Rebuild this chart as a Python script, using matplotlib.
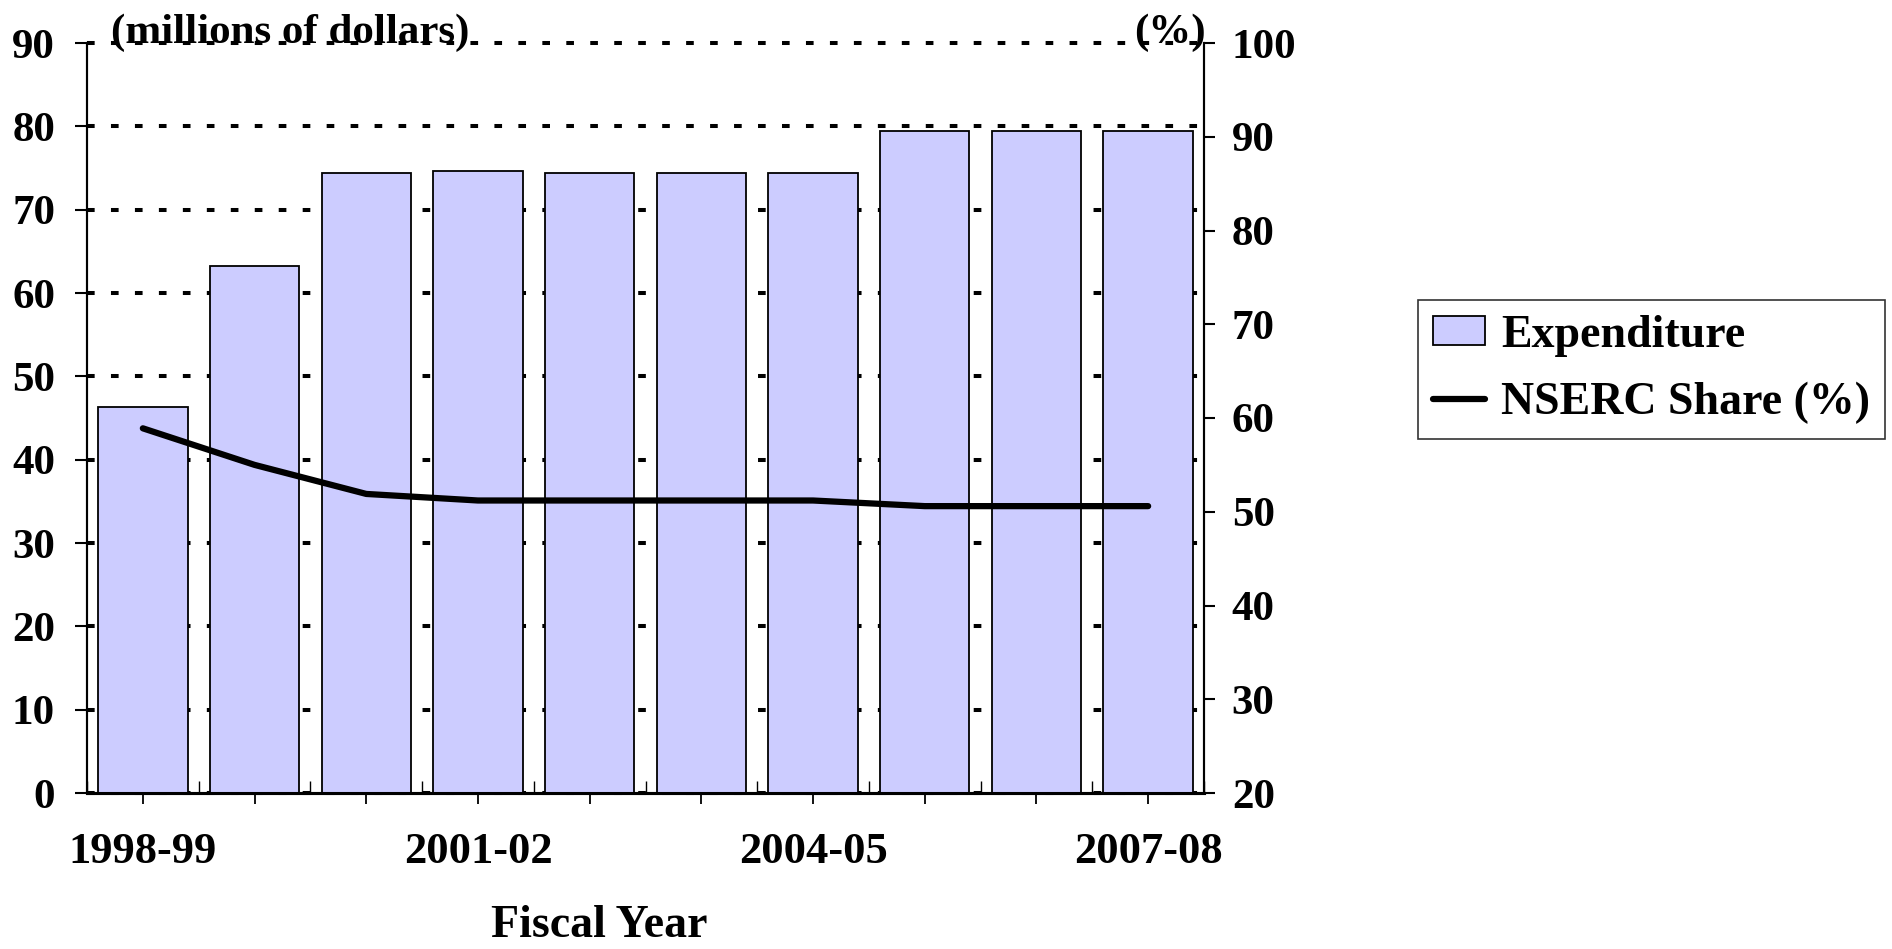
import matplotlib.pyplot as plt
import numpy as np

plt.rcParams['font.family'] = ['Liberation Serif', 'DejaVu Serif']
plt.rcParams['font.weight'] = 'bold'

# data
years = ['1998-99', '1999-00', '2000-01', '2001-02', '2002-03',
         '2003-04', '2004-05', '2005-06', '2006-07', '2007-08']
expenditure = [46.3, 63.3, 74.4, 74.6, 74.4, 74.4, 74.4, 79.5, 79.5, 79.5]
nserc_share = [58.9, 55.0, 51.9, 51.2, 51.2, 51.2, 51.2, 50.6, 50.6, 50.6]
shown_labels = ['1998-99', '2001-02', '2004-05', '2007-08']

fig = plt.figure(figsize=(18.92, 9.49), dpi=100)
ax = fig.add_axes([87/1892, 1 - 793/949, (1204 - 87)/1892, (793 - 43)/949])
ax2 = ax.twinx()

x = np.arange(len(years))
bars = ax.bar(x, expenditure, width=0.8, color='#ccccff', edgecolor='black',
              linewidth=1.3, zorder=3, label='Expenditure')
line, = ax2.plot(x, nserc_share, color='black', lw=4.5, solid_joinstyle='round',
                 solid_capstyle='round', zorder=4, label='NSERC Share (%)')

ax.set_xlim(-0.5, len(years) - 0.5)
ax.set_ylim(0, 90)
ax.set_yticks(np.arange(0, 91, 10))
ax2.set_ylim(20, 100)
ax2.set_yticks(np.arange(20, 101, 10))

ax.set_xticks(x)
ax.set_xticklabels([y if y in shown_labels else '' for y in years])
ax.set_xticks(np.arange(-0.5, len(years)), minor=True)

# dotted gridlines
ax.yaxis.grid(True, color='black', lw=2.9, linestyle=(0, (1.9, 4.05)), zorder=1)
ax.set_axisbelow(True)
for gl in ax.get_ygridlines():
    gl.set_clip_on(False)

for a in (ax, ax2):
    a.spines['top'].set_visible(False)
    a.spines['left'].set_linewidth(1.5)
    a.spines['right'].set_linewidth(1.5)
    a.spines['bottom'].set_linewidth(2.2)

ax.tick_params(axis='y', direction='out', length=9, width=1.5, pad=14, labelsize=31)
ax2.tick_params(axis='y', direction='out', length=8, width=1.5, pad=12, labelsize=31)
ax.tick_params(axis='x', which='major', direction='inout', length=16, width=1.3,
               pad=20, labelsize=32)
ax.tick_params(axis='x', which='minor', direction='in', length=9, width=1.0)

ax.text(111/1892, 1 - 43/949, '(millions of dollars)', transform=fig.transFigure,
        fontsize=31, fontweight='bold', ha='left', va='baseline')
ax.text(1206/1892, 1 - 43/949, '(%)', transform=fig.transFigure,
        fontsize=31, fontweight='bold', ha='right', va='baseline')
fig.text(599/1892, 1 - 937/949, 'Fiscal Year', fontsize=33, fontweight='bold',
         ha='center', va='baseline')

leg = fig.legend([bars, line], ['Expenditure', 'NSERC Share (%)'],
                 loc='upper left', bbox_to_anchor=(1418/1892, 1 - 300/949),
                 fontsize=33, frameon=True, fancybox=False, shadow=False,
                 borderpad=0.32, labelspacing=0.55, handlelength=1.15,
                 handleheight=0.6, handletextpad=0.35, borderaxespad=0)
leg.get_frame().set_edgecolor('black')
leg.get_frame().set_linewidth(1.2)

fig.savefig('out.png', dpi=100)
